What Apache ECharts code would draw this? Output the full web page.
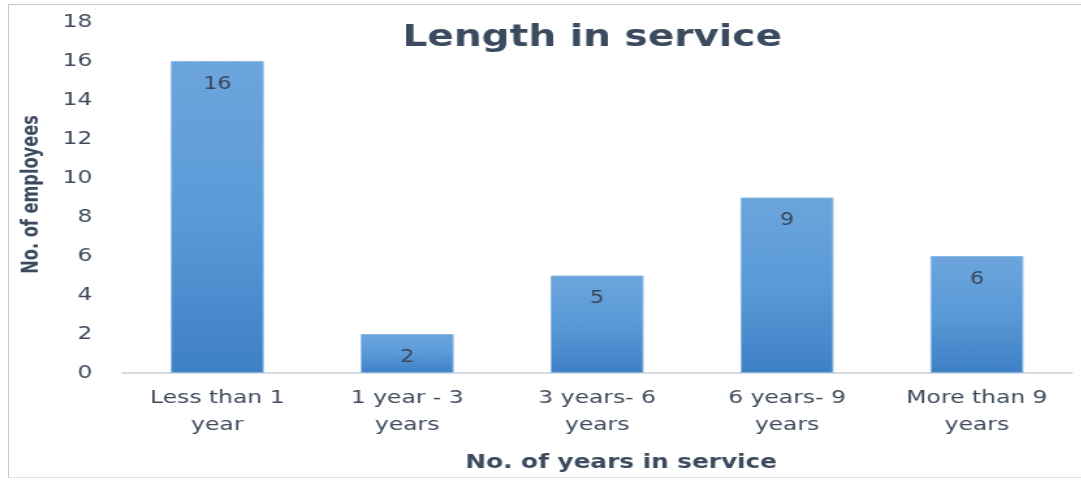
<!DOCTYPE html>
<html>
<head>
<meta charset="utf-8">
<script src="https://cdn.jsdelivr.net/npm/echarts@6/dist/echarts.min.js"></script>
<style>
html,body{margin:0;padding:0;background:#fff;overflow:hidden;width:1081px;height:482px;}
#frame{position:absolute;left:8px;top:4px;width:1073px;height:474px;border-left:1px solid #c8c8c8;border-top:1px solid #c8c8c8;border-bottom:1px solid #e0e0e0;box-sizing:border-box;}
#chart{position:absolute;left:0;top:0;width:831.5px;height:482px;transform:scaleX(1.3);transform-origin:0 0;}
</style>
</head>
<body>
<div id="frame"></div>
<div id="chart"></div>
<script>
const categories = ['Less than 1\nyear', '1 year - 3\nyears', '3 years- 6\nyears', '6 years- 9\nyears', 'More than 9\nyears'];
const values = [16, 2, 5, 9, 6];
const yTicks = { min: 0, max: 18, interval: 2 };
const titleText = 'Length in service';
const xName = 'No. of years in service';
const yName = 'No. of employees';

const chart = echarts.init(document.getElementById('chart'), null, { renderer: 'canvas', width: 831.5, height: 482 });
const txt = '#3f4b5c';
chart.setOption({
  backgroundColor: 'transparent',
  animation: false,
  title: {
    text: titleText, left: 450, top: 18, textAlign: 'center',
    textStyle: { fontFamily: 'DejaVu Sans', fontWeight: 'bold', fontSize: 30, color: '#3b4a5e' }
  },
  grid: { left: 94, right: 8, top: 22, bottom: 109, containLabel: false },
  xAxis: {
    type: 'category', data: categories,
    name: xName, nameLocation: 'middle', nameGap: 81,
    nameTextStyle: { fontFamily: 'DejaVu Sans', fontWeight: 'bold', fontSize: 19, color: '#3b4a5e', padding: [0, 0, 0, 37] },
    axisLine: { lineStyle: { color: '#d6dbe1', width: 2 } },
    axisTick: { show: false },
    axisLabel: { fontFamily: 'DejaVu Sans', fontSize: 18, color: txt, lineHeight: 27, margin: 12 }
  },
  yAxis: {
    type: 'value', min: yTicks.min, max: yTicks.max, interval: yTicks.interval,
    name: yName, nameLocation: 'middle', nameGap: 61, nameRotate: 90,
    nameTextStyle: { fontFamily: 'DejaVu Sans Condensed', fontWeight: 'bold', fontSize: 18, color: '#3b4a5e', padding: [0, 0, 0, 6] },
    axisLine: { show: false }, axisTick: { show: false },
    splitLine: { show: false },
    axisLabel: { fontFamily: 'DejaVu Sans', fontSize: 18, color: txt, margin: 23 }
  },
  series: [{
    type: 'bar', data: values, barWidth: '49%',
    itemStyle: {
      color: new echarts.graphic.LinearGradient(0, 0, 0, 1, [
        { offset: 0, color: '#6ca5dc' },
        { offset: 0.5, color: '#5a9ad9' },
        { offset: 1, color: '#3e80c4' }
      ]),
      borderColor: '#8ab8e4', borderWidth: 1
    },
    label: {
      show: true, position: 'insideTop', distance: 15,
      fontFamily: 'DejaVu Sans', fontSize: 17, color: '#3a4658'
    }
  }]
});
</script>
</body>
</html>
